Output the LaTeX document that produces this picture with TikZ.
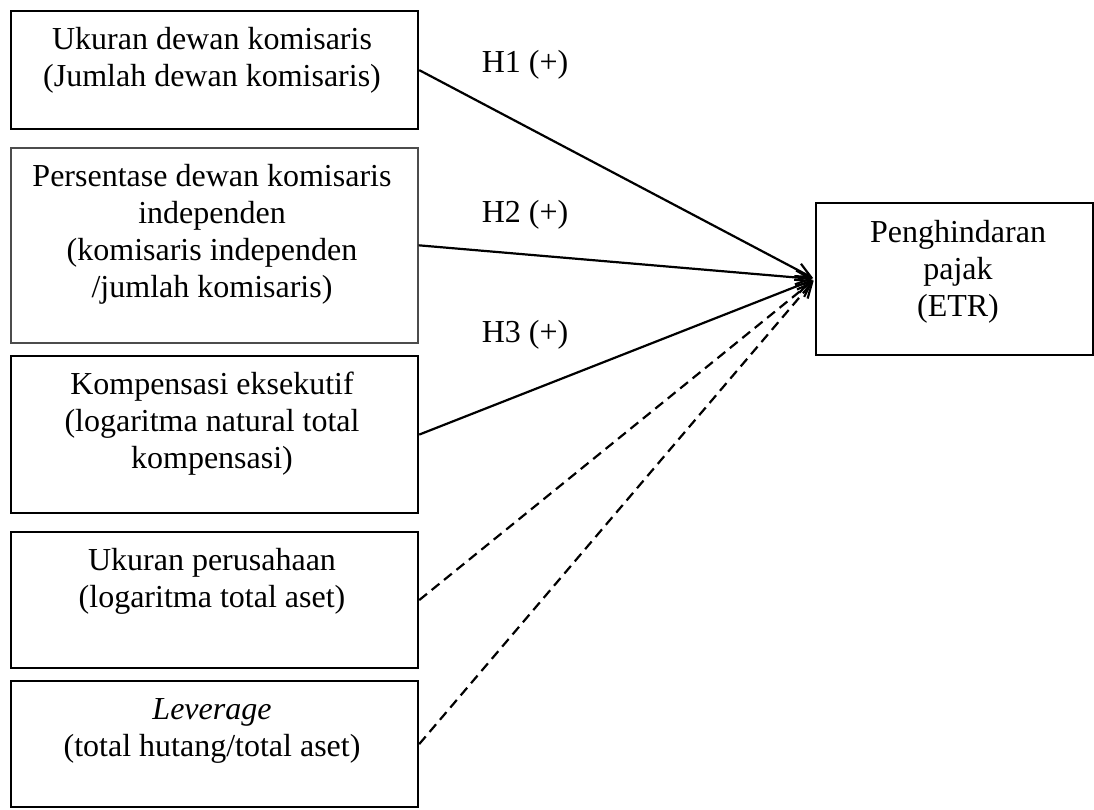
\documentclass[tikz,border=0pt]{standalone}
\usepackage{fontspec}
\setmainfont{Liberation Serif}
\usetikzlibrary{arrows.meta}
\begin{document}
\begin{tikzpicture}[x=1pt,y=-1pt,
  box/.style={draw=black,line width=2.2pt,rectangle,inner sep=0pt,anchor=north west},
  lbl/.style={inner sep=0pt,anchor=north,align=center,font=\fontsize{32}{37}\selectfont},
  hyp/.style={inner sep=0pt,anchor=base,font=\fontsize{32}{37}\selectfont},
  arr/.style={line width=2.2pt,-{Straight Barb[length=15pt,width=14pt,line width=2.2pt]},shorten >=2pt},
  darr/.style={arr,dash pattern=on 10pt off 6pt}]
\useasboundingbox (0,0) rectangle (1094,809);
% boxes
\node[box,minimum width=407pt,minimum height=118pt] (b1) at (10,10) {};
\node[box,draw=black!70,line width=1.6pt,minimum width=407pt,minimum height=195pt] (b2) at (10,147) {};
\node[box,minimum width=407pt,minimum height=157pt] (b3) at (10,355) {};
\node[box,minimum width=407pt,minimum height=136pt] (b4) at (10,531) {};
\node[box,minimum width=407pt,minimum height=126pt] (b5) at (10,680) {};
\node[box,minimum width=277pt,minimum height=152pt] (y) at (815,202) {};
% texts
\node[lbl] (t1) at (212,23) {\strut Ukuran dewan komisaris\\(Jumlah dewan komisaris)};
\node[lbl] (t2) at (212,160) {\strut Persentase dewan komisaris\\independen\\(komisaris independen\\/jumlah komisaris)};
\node[lbl] (t3) at (212,368) {\strut Kompensasi eksekutif\\(logaritma natural total\\kompensasi)};
\node[lbl] (t4) at (212,544) {\strut Ukuran perusahaan\\(logaritma total aset)};
\node[lbl] (t5) at (212,693) {\strut\textit{Leverage}\\(total hutang/total aset)};
\node[lbl] (ty) at (958,216) {\strut Penghindaran\\pajak\\(ETR)};
% hypothesis labels
\node[hyp] (h1) at (525,72) {H1 (+)};
\node[hyp] (h2) at (525,222) {H2 (+)};
\node[hyp] (h3) at (525,342) {H3 (+)};
% connectors
\draw[arr] (b1.east) -- (y.west);
\draw[arr] (b2.east) -- (y.west);
\draw[arr] (b3.east) -- (y.west);
\draw[darr] (b4.east) -- (y.west);
\draw[darr] (b5.east) -- (y.west);
\end{tikzpicture}
\end{document}
